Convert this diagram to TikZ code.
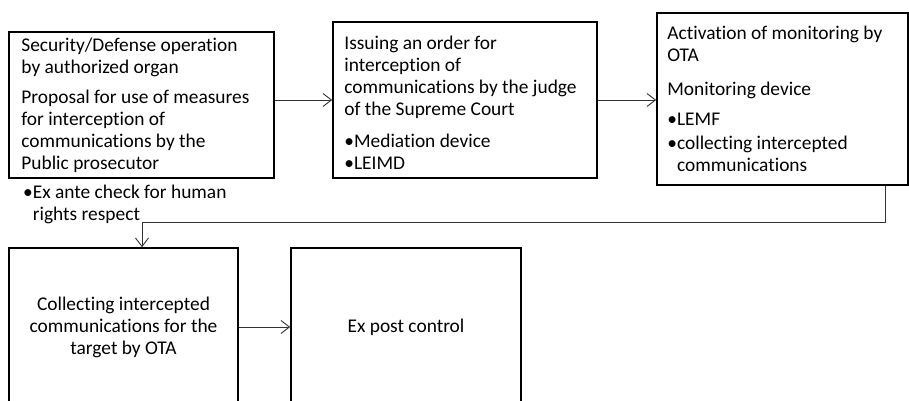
\documentclass[tikz,border=0pt]{standalone}
\usepackage{fontspec}
\setmainfont[Ligatures={NoCommon}]{Carlito}
\usetikzlibrary{arrows.meta}
\begin{document}
\begin{tikzpicture}[x=1pt,y=-1pt,
  txt/.style={font=\fontsize{19.4}{22}\selectfont,inner sep=0pt},
  box/.style={draw=black,line width=1.6pt,rectangle,inner sep=0pt},
  conn/.style={draw=black!80,line width=0.9pt,-{Straight Barb[length=8.5pt,width=13pt]}},
]
\useasboundingbox (0,0) rectangle (909,401);
\clip (0,0) rectangle (909,401);
% boxes
\node[box,minimum width=265pt,minimum height=146pt] (A) at (141.5,105) {};
\node[box,minimum width=264pt,minimum height=156pt] (B) at (465,100) {};
\node[box,minimum width=251pt,minimum height=172pt] (C) at (782.5,99) {};
\node[box,txt,minimum width=229pt,minimum height=158pt,align=center] (D) at (123.5,327)
  {Collecting intercepted\\communications for the\\target by OTA};
\node[box,txt,minimum width=230pt,minimum height=158pt,align=center] (E) at (406,327)
  {Ex post control};
% texts
\node[txt,anchor=west,align=left] (At) at ([xshift=13pt]A.west)
  {Security/Defense operation\\by authorized organ\\[8pt]Proposal for use of measures\\for interception of\\communications by the\\Public prosecutor};
\node[txt,anchor=west,align=left] (Bt) at ([xshift=12pt,yshift=-3pt]B.west)
  {Issuing an order for\\interception of\\communications by the judge\\of the Supreme Court\\[10pt]•Mediation device\\•LEIMD};
\node[txt,anchor=west,align=left] (Ct) at ([xshift=11pt]C.west)
  {Activation of monitoring by\\OTA\\[12pt]Monitoring device\\[8pt]•LEMF\\[2pt]•collecting intercepted\\\phantom{•}communications};
\node[txt,anchor=north west,align=left] (N) at (23,185)
  {•Ex ante check for human\\\phantom{•}rights respect};
% connectors
\draw[conn] (B.west -| A.east) -- (B.west);
\draw[conn] (B.east) -- (B.east -| C.west);
\draw[conn] ([xshift=102.5pt]C.south) -- ++(0,37) -| ([xshift=18.5pt]D.north);
\draw[conn] (D.east) -- (E.west);
\end{tikzpicture}
\end{document}
